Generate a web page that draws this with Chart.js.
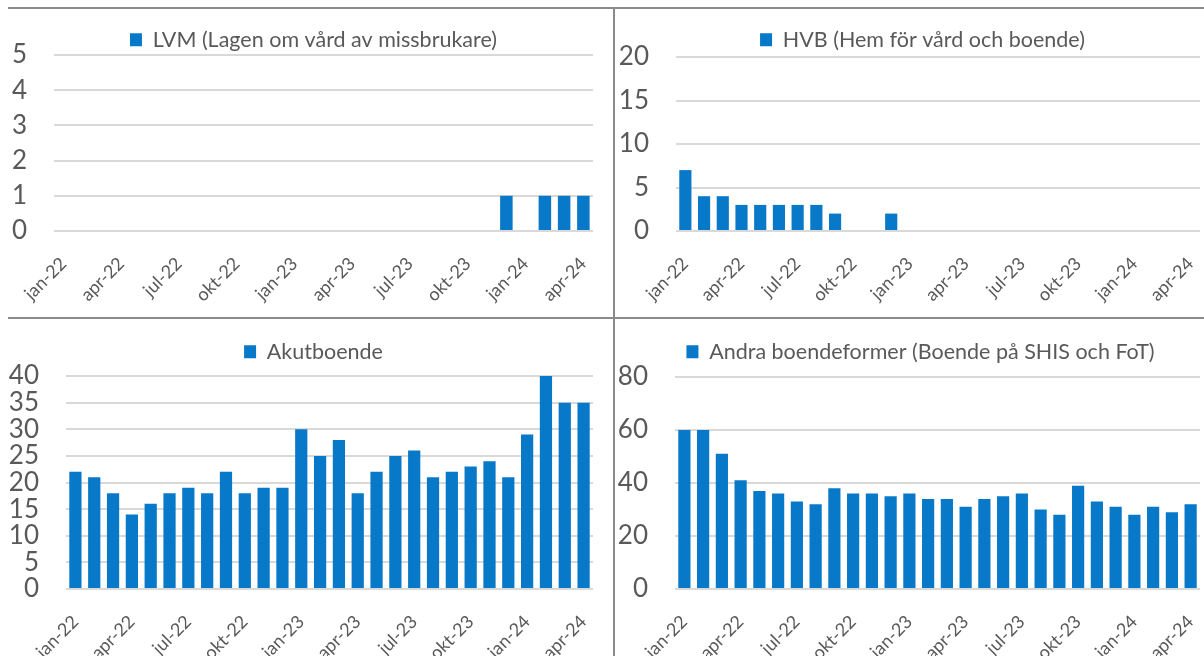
<!DOCTYPE html>
<html lang="sv">
<head>
<meta charset="utf-8">
<title>Placeringar per boendeform</title>
<script src="https://cdn.jsdelivr.net/npm/chart.js@4.4.1/dist/chart.umd.min.js"></script>
<style>
  html, body { margin: 0; padding: 0; background: #fff; }
  body { position: relative; width: 1204px; height: 656px; overflow: hidden; }
  canvas { position: absolute; }
  .rule { position: absolute; background: #8a8a8a; }
</style>
</head>
<body>
<canvas id="lvmChart" width="628" height="308" style="left:0;top:9px"></canvas>
<canvas id="hvbChart" width="612" height="308" style="left:615px;top:9px"></canvas>
<canvas id="akutChart" width="628" height="337" style="left:0;top:319px"></canvas>
<canvas id="andraChart" width="612" height="337" style="left:615px;top:319px"></canvas>
<div class="rule" style="left:8px;top:7px;width:1196px;height:2px"></div>
<div class="rule" style="left:8px;top:317px;width:1196px;height:2px"></div>
<div class="rule" style="left:613px;top:7px;width:2px;height:649px"></div>
<script>
const months = [
  'jan-22', 'feb-22', 'mar-22', 'apr-22', 'maj-22', 'jun-22', 'jul-22', 'aug-22', 'sep-22', 'okt-22', 'nov-22', 'dec-22',
  'jan-23', 'feb-23', 'mar-23', 'apr-23', 'maj-23', 'jun-23', 'jul-23', 'aug-23', 'sep-23', 'okt-23', 'nov-23', 'dec-23',
  'jan-24', 'feb-24', 'mar-24', 'apr-24'
];

const lvm = [0, 0, 0, 0, 0, 0, 0, 0, 0, 0, 0, 0, 0, 0, 0, 0, 0, 0, 0, 0, 0, 0, 0, 1, 0, 1, 1, 1];
const hvb = [7, 4, 4, 3, 3, 3, 3, 3, 2, 0, 0, 2, 0, 0, 0, 0, 0, 0, 0, 0, 0, 0, 0, 0, 0, 0, 0, 0];
const akutboende = [22, 21, 18, 14, 16, 18, 19, 18, 22, 18, 19, 19, 30, 25, 28, 18, 22, 25, 26, 21, 22, 23, 24, 21, 29, 40, 35, 35];
const andraBoende = [60, 60, 51, 41, 37, 36, 33, 32, 38, 36, 36, 35, 36, 34, 34, 31, 34, 35, 36, 30, 28, 39, 33, 31, 28, 31, 29, 32];

const lvmTicks = [0, 1, 2, 3, 4, 5];
const hvbTicks = [0, 5, 10, 15, 20];
const akutTicks = [0, 5, 10, 15, 20, 25, 30, 35, 40];
const andraTicks = [0, 20, 40, 60, 80];

const BLUE = '#0878c8';
const TEXT = '#595959';
const FONT = 'Lato, "Open Sans", sans-serif';

// fixed legend band above each plot so the plots line up,
// and a small sideways nudge of the centred legend
const legendBand = {
  id: 'legendBand',
  beforeLayout(chart, args, opts) {
    const legend = chart.legend;
    if (!legend || legend._banded) return;
    const fit = legend.fit;
    legend.fit = function () {
      fit.call(this);
      this.height = opts.height;
    };
    legend._banded = true;
  },
  afterLayout(chart, args, opts) {
    chart.legend.left += opts.shift;
    chart.legend.right += opts.shift;
  }
};

function panel(id, label, values, ticks, box) {
  return new Chart(document.getElementById(id), {
    type: 'bar',
    data: {
      labels: months,
      datasets: [{
        label,
        data: values,
        backgroundColor: BLUE,
        barPercentage: 0.65,
        categoryPercentage: 1
      }]
    },
    options: {
      responsive: false,
      animation: false,
      layout: { padding: { right: box.right } },
      plugins: {
        legendBand: { height: box.legend, shift: box.shift },
        legend: {
          labels: {
            color: TEXT,
            font: { family: FONT, size: 21.5 },
            boxWidth: 12,
            boxHeight: 13,
            padding: box.legendPad
          }
        },
        tooltip: { enabled: false }
      },
      scales: {
        x: {
          grid: { display: false },
          border: { display: false },
          ticks: {
            autoSkip: false,
            minRotation: 45,
            maxRotation: 45,
            padding: 14,
            color: TEXT,
            font: { family: FONT, size: 18 },
            callback(value, index) {
              return index % 3 === 0 ? this.getLabelForValue(value) : '';
            }
          },
          afterFit(scale) { scale.height = box.xAxis; }
        },
        y: {
          min: ticks[0],
          max: ticks[ticks.length - 1],
          border: { display: false },
          grid: { color: '#d9d9d9', lineWidth: 2, drawTicks: false },
          ticks: {
            autoSkip: false,
            stepSize: ticks[1] - ticks[0],
            padding: 27,
            color: TEXT,
            font: { family: FONT, size: 26 }
          },
          afterFit(scale) { scale.width = box.yAxis; }
        }
      }
    },
    plugins: [legendBand]
  });
}

panel('lvmChart', 'LVM (Lagen om vård av missbrukare)', lvm, lvmTicks,
  { legend: 46, legendPad: 20, shift: 17, yAxis: 54, xAxis: 86, right: 35 });
panel('hvbChart', 'HVB (Hem för vård och boende)', hvb, hvbTicks,
  { legend: 48, legendPad: 20, shift: 15, yAxis: 61, xAxis: 86, right: 27 });
panel('akutChart', 'Akutboende', akutboende, akutTicks,
  { legend: 57, legendPad: 22, shift: 17, yAxis: 66, xAxis: 67, right: 35 });
panel('andraChart', 'Andra boendeformer (Boende på SHIS och FoT)', andraBoende, andraTicks,
  { legend: 58, legendPad: 22, shift: 13, yAxis: 60, xAxis: 67, right: 27 });
</script>
</body>
</html>
